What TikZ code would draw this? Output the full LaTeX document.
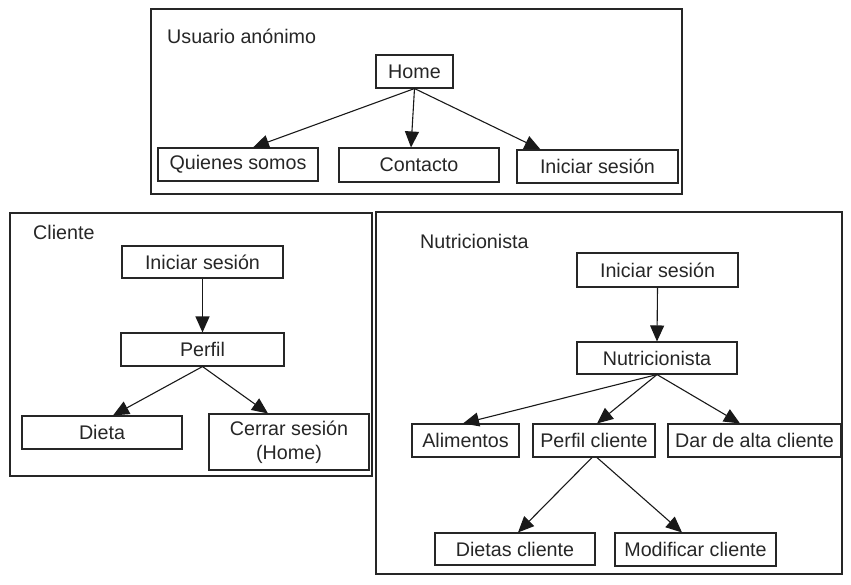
\documentclass[tikz,border=0pt]{standalone}
\usepackage{fontspec}
\setmainfont{Liberation Sans}
\usetikzlibrary{arrows.meta}
\begin{document}
\begin{tikzpicture}[x=1pt,y=-1pt,
  box/.style={draw=black!85,line width=1.1pt,inner sep=0pt,text=black!85,
    font=\fontsize{19.7}{24}\selectfont,align=center},
  frame/.style={draw=black!85,line width=1.3pt},
  title/.style={anchor=base west,inner sep=0pt,text=black!85,font=\fontsize{19.7}{24}\selectfont},
  arr/.style={draw=black!90,line width=1.1pt,-{Triangle[length=16pt,width=14pt]}}]
\useasboundingbox (0,0) rectangle (851,584);
% frames
\draw[frame] (151,9) rectangle (682,194);
\draw[frame] (10,213) rectangle (372,476);
\draw[frame] (376,212) rectangle (842,574);
\node[title] (t1) at (167,43) {Usuario anónimo};
\node[title] (t2) at (33,239) {Cliente};
\node[title] (t3) at (420,248) {Nutricionista};
% top section
\node[box,minimum width=77pt,minimum height=33pt] (home) at (414.5,71.5) {Home};
\node[box,minimum width=160pt,minimum height=33pt] (quienes) at (238,164.5) {Quienes somos};
\node[box,minimum width=160pt,minimum height=34pt] (contacto) at (419,165) {Contacto};
\node[box,minimum width=161pt,minimum height=33pt] (ini1) at (597.5,166.5) {Iniciar sesión};
\draw[arr] (home.south) -- ([xshift=15pt]quienes.north);
\draw[arr] (home.south) -- ([xshift=-8pt]contacto.north);
\draw[arr] (home.south) -- ([xshift=-57pt]ini1.north);
% cliente
\node[box,minimum width=161pt,minimum height=32pt] (ini2) at (202.5,262) {Iniciar sesión};
\node[box,minimum width=163pt,minimum height=33pt] (perfil) at (202.5,349.5) {Perfil};
\node[box,minimum width=160pt,minimum height=33pt] (dieta) at (102,432.5) {Dieta};
\node[box,minimum width=160pt,minimum height=56pt] (cerrar) at (289,442) {Cerrar sesión\\(Home)};
\draw[arr] (ini2.south) -- (perfil.north);
\draw[arr] (perfil.south) -- ([xshift=11pt]dieta.north);
\draw[arr] (perfil.south) -- ([xshift=-21pt]cerrar.north);
% nutricionista
\node[box,minimum width=161pt,minimum height=34pt] (ini3) at (657.5,270) {Iniciar sesión};
\node[box,minimum width=160pt,minimum height=32pt] (nutri) at (657,358) {Nutricionista};
\node[box,minimum width=107pt,minimum height=33pt] (alim) at (465.5,440.5) {Alimentos};
\node[box,minimum width=122pt,minimum height=33pt] (pcli) at (594,440.5) {Perfil cliente};
\node[box,minimum width=173pt,minimum height=33pt] (alta) at (754.5,440.5) {Dar de alta cliente};
\node[box,minimum width=160pt,minimum height=32pt] (dietas) at (515,549) {Dietas cliente};
\node[box,minimum width=161pt,minimum height=33pt] (modif) at (695.5,549.5) {Modificar cliente};
\draw[arr] (ini3.south) -- (nutri.north);
\draw[arr] (nutri.south) -- ([xshift=-2.5pt]alim.north);
\draw[arr] (nutri.south) -- ([xshift=3pt]pcli.north);
\draw[arr] (nutri.south) -- ([xshift=-14.5pt]alta.north);
\draw[arr] ([xshift=-2pt]pcli.south) -- ([xshift=3pt]dietas.north);
\draw[arr] ([xshift=3pt]pcli.south) -- ([xshift=-13.5pt]modif.north);
\end{tikzpicture}
\end{document}
